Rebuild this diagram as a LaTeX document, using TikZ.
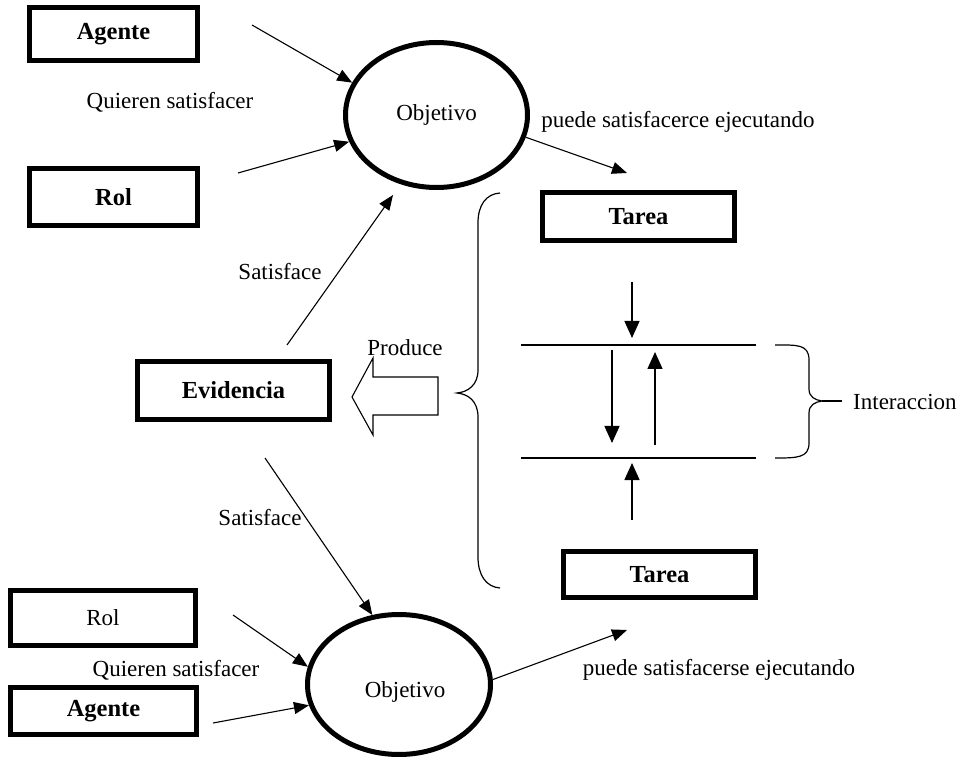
\documentclass[tikz,border=0pt]{standalone}
\usepackage{fontspec}
\setmainfont{Liberation Serif}
\usetikzlibrary{arrows.meta,shapes.geometric}
\begin{document}
\begin{tikzpicture}[x=1pt,y=-1pt,
  txt/.style={inner sep=0pt,font=\fontsize{23}{26}\selectfont},
  entity/.style={draw,line width=5pt,inner sep=0pt,font=\fontsize{24.5}{27}\selectfont\bfseries},
  plainentity/.style={entity,font=\fontsize{23}{26}\selectfont},
  goal/.style={ellipse,draw,line width=5pt,inner sep=0pt,font=\fontsize{23}{26}\selectfont},
  link/.style={line width=1.1pt,-{Triangle[length=15pt,width=12pt]}},
  flow/.style={line width=1.4pt,-{Triangle[length=17pt,width=15pt]}},
  bar/.style={line width=1.5pt},
  brace/.style={line width=1.2pt},
  hollow/.style={line width=1.1pt,line join=miter}]
\useasboundingbox (0,0) rectangle (962,759);

% --- upper group ---
\node[entity,minimum width=168pt,minimum height=53pt] (agente1) at (113.5,34) {Agente};
\node[entity,minimum width=168pt,minimum height=57pt] (rol1) at (113.5,197) {Rol};
\node[goal,minimum width=182pt,minimum height=145pt] (obj1) at (436.5,115) {Objetivo};
\node[entity,minimum width=192pt,minimum height=48pt] (tarea1) at (638.5,216.5) {Tarea};
\node[txt] (quieren1) at (170,102) {Quieren satisfacer};
\node[txt] (puede1) at (678,122) {puede satisfacerce ejecutando};

\coordinate (agente1out) at (252,25);
\coordinate (rol1out) at (238,173);
\draw[link] (agente1out) -- (obj1.159);
\draw[link] (rol1out) -- (obj1.197);
\coordinate (tarea1in) at (627,173);
\draw[link] (obj1.346) -- (tarea1in);

% --- evidence ---
\node[entity,minimum width=192pt,minimum height=58pt] (evid) at (233.5,390.5) {Evidencia};
\node[txt] (satis1) at (280,272) {Satisface};
\node[txt] (satis2) at (260,518) {Satisface};
\node[txt] (produce) at (405,348) {Produce};
\coordinate (evidup) at (287,345);
\coordinate (obj1in) at (393,195);
\draw[link] (evidup) -- (obj1in);

% hollow "produce" arrow
\draw[hollow] (352,397) -- (373,358) -- (373,377) -- (438,377) -- (438,415)
  -- (373,415) -- (373,435) -- cycle;

% large brace grouping the two tasks
\draw[brace] (500,193) .. controls (486,194) and (478,205) .. (478,223)
  -- (478,370) .. controls (478,385) and (468,392) .. (457,393)
  .. controls (468,394) and (478,401) .. (478,417)
  -- (478,557) .. controls (478,575) and (486,587) .. (500,588);

% --- interaction band ---
\coordinate (bandTL) at (521,345);
\coordinate (bandTR) at (756,345);
\coordinate (bandBL) at (521,458);
\coordinate (bandBR) at (756,458);
\draw[bar] (bandTL) -- (bandTR);
\draw[bar] (bandBL) -- (bandBR);
\coordinate (downA) at (632,282);
\coordinate (downB) at (632,338);
\coordinate (innerA) at (612,350);
\coordinate (innerB) at (612,443);
\coordinate (innerC) at (655,445);
\coordinate (innerD) at (655,352);
\coordinate (upA) at (632,520);
\coordinate (upB) at (632,463);
\draw[flow] (downA) -- (downB);
\draw[flow] (innerA) -- (innerB);
\draw[flow] (innerC) -- (innerD);
\draw[flow] (upA) -- (upB);

% small brace for the interaction
\coordinate (ibTip) at (822,401);
\draw[brace] (775,345) .. controls (797,345) and (809,344) .. (809,360)
  -- (809,389) .. controls (809,397) and (815,400) .. (ibTip)
  .. controls (815,402) and (809,405) .. (809,413)
  -- (809,443) .. controls (809,458) and (797,458) .. (775,458);
\coordinate (ibEnd) at (842,401);
\draw[brace] (ibTip) -- (ibEnd);
\node[txt,anchor=west] (interac) at (853,402) {Interaccion};

% --- lower group ---
\node[entity,minimum width=192pt,minimum height=46pt] (tarea2) at (659.5,574.5) {Tarea};
\node[plainentity,minimum width=185pt,minimum height=55pt] (rol2) at (103,618) {Rol};
\node[entity,minimum width=186pt,minimum height=47pt] (agente2) at (103.5,711) {Agente};
\node[goal,minimum width=183pt,minimum height=140pt] (obj2) at (399,684.5) {};
\node[txt] (obj2text) at (405,692) {Objetivo};
\node[txt] (quieren2) at (176,670) {Quieren satisfacer};
\node[txt] (puede2) at (719,670) {puede satisfacerse ejecutando};

\coordinate (evidown) at (265,458);
\draw[link] (evidown) -- (obj2.111);
\coordinate (rol2out) at (233,615);
\coordinate (agente2out) at (213,723);
\draw[link] (rol2out) -- (obj2.169);
\draw[link] (agente2out) -- (obj2.193);
\coordinate (tarea2in) at (627,630);
\draw[link] (obj2.3) -- (tarea2in);
\end{tikzpicture}
\end{document}
